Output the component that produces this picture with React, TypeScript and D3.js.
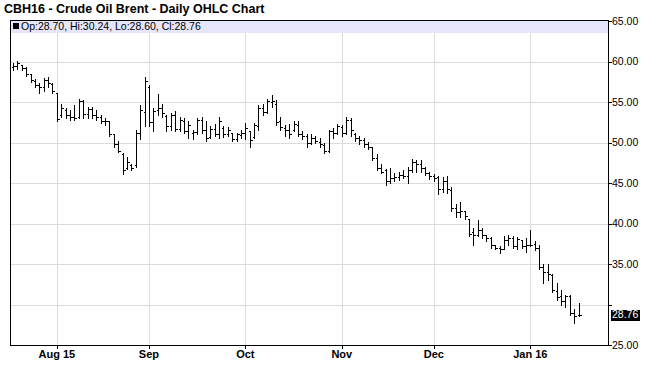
import React from "react";
import * as d3 from "d3";

// trading days, Jul 20 2015 .. Jan 19 2016
const dates = [
  "2015-07-20", "2015-07-21", "2015-07-22", "2015-07-23", "2015-07-24", "2015-07-27", "2015-07-28", "2015-07-29", "2015-07-30", "2015-07-31",
  "2015-08-03", "2015-08-04", "2015-08-05", "2015-08-06", "2015-08-07", "2015-08-10", "2015-08-11", "2015-08-12", "2015-08-13", "2015-08-14",
  "2015-08-17", "2015-08-18", "2015-08-19", "2015-08-20", "2015-08-21", "2015-08-24", "2015-08-25", "2015-08-26", "2015-08-27", "2015-08-28",
  "2015-08-31", "2015-09-01", "2015-09-02", "2015-09-03", "2015-09-04", "2015-09-07", "2015-09-08", "2015-09-09", "2015-09-10", "2015-09-11",
  "2015-09-14", "2015-09-15", "2015-09-16", "2015-09-17", "2015-09-18", "2015-09-21", "2015-09-22", "2015-09-23", "2015-09-24", "2015-09-25",
  "2015-09-28", "2015-09-29", "2015-09-30", "2015-10-01", "2015-10-02", "2015-10-05", "2015-10-06", "2015-10-07", "2015-10-08", "2015-10-09",
  "2015-10-12", "2015-10-13", "2015-10-14", "2015-10-15", "2015-10-16", "2015-10-19", "2015-10-20", "2015-10-21", "2015-10-22", "2015-10-23",
  "2015-10-26", "2015-10-27", "2015-10-28", "2015-10-29", "2015-10-30", "2015-11-02", "2015-11-03", "2015-11-04", "2015-11-05", "2015-11-06",
  "2015-11-09", "2015-11-10", "2015-11-11", "2015-11-12", "2015-11-13", "2015-11-16", "2015-11-17", "2015-11-18", "2015-11-19", "2015-11-20",
  "2015-11-23", "2015-11-24", "2015-11-25", "2015-11-26", "2015-11-27", "2015-11-30", "2015-12-01", "2015-12-02", "2015-12-03", "2015-12-04",
  "2015-12-07", "2015-12-08", "2015-12-09", "2015-12-10", "2015-12-11", "2015-12-14", "2015-12-15", "2015-12-16", "2015-12-17", "2015-12-18",
  "2015-12-21", "2015-12-22", "2015-12-23", "2015-12-24", "2015-12-28", "2015-12-29", "2015-12-30", "2015-12-31", "2016-01-04", "2016-01-05",
  "2016-01-06", "2016-01-07", "2016-01-08", "2016-01-11", "2016-01-12", "2016-01-13", "2016-01-14", "2016-01-15", "2016-01-18", "2016-01-19",
];

const opens = [
  59.3, 59.4, 59.6, 59.2, 58.4, 57.6, 57.1, 56.9, 57.7, 57.2,
  56.1, 53.4, 54.0, 53.4, 53.2, 53.1, 55.1, 53.5, 54.1, 53.4,
  53.2, 52.7, 52.6, 51.0, 49.8, 48.6, 46.8, 47.2, 47.2, 51.2,
  53.8, 56.9, 52.5, 54.0, 54.2, 53.3, 52.0, 53.4, 51.7, 52.6,
  51.4, 51.2, 51.3, 52.8, 51.6, 50.7, 51.7, 51.0, 51.8, 51.1,
  51.2, 50.4, 50.9, 51.2, 51.4, 50.7, 52.0, 54.2, 53.8, 55.0,
  54.8, 52.6, 51.8, 51.5, 51.5, 52.1, 51.0, 50.8, 50.0, 50.5,
  50.1, 49.7, 49.0, 51.4, 51.2, 51.9, 51.2, 52.8, 51.1, 50.5,
  50.3, 49.8, 49.4, 48.1, 46.9, 46.6, 45.3, 45.6, 45.8, 46.0,
  45.9, 46.6, 47.6, 47.3, 46.8, 46.2, 45.9, 45.7, 44.2, 45.3,
  44.1, 41.9, 41.4, 41.6, 40.6, 38.9, 38.6, 39.2, 38.6, 38.2,
  37.3, 37.0, 36.9, 38.0, 38.2, 37.2, 38.0, 37.2, 37.4, 37.5,
  37.0, 34.6, 34.0, 33.7, 31.7, 31.0, 30.4, 31.0, 28.9, 28.7,
];

const highs = [
  59.8, 60.1, 59.6, 59.3, 58.5, 57.9, 57.4, 58.0, 58.1, 57.3,
  56.1, 54.8, 54.3, 54.0, 54.6, 55.4, 55.2, 54.4, 54.4, 54.0,
  53.4, 53.0, 52.7, 51.0, 50.2, 48.7, 48.2, 47.4, 51.5, 54.6,
  58.1, 57.1, 54.2, 56.0, 54.8, 53.4, 53.7, 53.9, 53.2, 53.0,
  52.6, 51.6, 53.0, 53.2, 52.6, 52.0, 52.3, 53.1, 52.0, 51.9,
  51.2, 51.2, 51.6, 52.4, 51.4, 52.4, 54.6, 54.8, 55.4, 55.9,
  55.2, 53.2, 52.2, 52.3, 52.6, 52.7, 51.4, 51.0, 51.0, 50.8,
  50.5, 49.9, 51.6, 51.8, 52.3, 52.2, 53.1, 53.0, 51.2, 50.8,
  50.6, 50.1, 49.5, 48.6, 47.4, 46.7, 46.8, 46.2, 46.4, 46.6,
  47.0, 48.0, 47.8, 47.8, 47.0, 46.3, 46.1, 45.9, 45.8, 45.9,
  44.5, 42.4, 42.7, 41.6, 40.6, 39.4, 40.4, 39.4, 38.6, 38.3,
  37.4, 37.2, 38.4, 38.6, 38.5, 38.3, 38.0, 38.2, 39.2, 37.9,
  37.3, 35.0, 35.0, 33.8, 32.6, 31.8, 31.2, 31.2, 29.5, 30.24,
];

const lows = [
  59.0, 59.1, 58.9, 58.2, 57.5, 56.9, 56.1, 56.3, 56.9, 56.1,
  52.6, 53.2, 53.0, 52.8, 52.8, 53.0, 53.0, 53.0, 53.0, 52.8,
  52.4, 52.2, 50.8, 49.5, 48.8, 46.1, 46.7, 46.6, 47.0, 50.4,
  52.0, 52.0, 51.4, 53.4, 53.2, 51.4, 51.6, 51.4, 51.4, 51.2,
  50.6, 50.4, 51.0, 51.2, 50.2, 50.6, 50.8, 50.6, 50.7, 50.8,
  50.2, 50.2, 50.6, 50.4, 49.5, 50.6, 51.6, 53.4, 53.6, 54.4,
  52.2, 51.6, 50.8, 50.6, 51.4, 50.8, 50.4, 49.5, 49.8, 49.9,
  49.5, 48.7, 48.8, 50.6, 51.0, 50.8, 51.0, 50.8, 50.2, 49.8,
  49.5, 49.2, 47.9, 46.6, 46.2, 44.8, 45.0, 45.2, 45.4, 45.6,
  45.0, 46.4, 46.4, 46.4, 46.0, 45.5, 45.3, 43.7, 43.9, 43.8,
  41.6, 40.8, 40.8, 40.6, 38.4, 37.4, 38.4, 38.2, 37.8, 37.0,
  36.8, 36.4, 36.8, 37.4, 37.0, 36.8, 37.0, 36.5, 37.2, 36.7,
  34.4, 32.6, 33.0, 31.6, 30.6, 29.9, 29.7, 28.7, 27.7, 28.6,
];

const closes = [
  59.5, 59.8, 59.2, 58.4, 57.7, 57.1, 56.9, 57.7, 57.3, 56.3,
  52.9, 54.3, 53.4, 53.2, 53.0, 55.1, 53.5, 54.1, 53.4, 53.2,
  52.7, 52.6, 51.0, 49.8, 49.0, 46.6, 47.6, 46.9, 51.2, 54.0,
  57.6, 52.5, 53.9, 54.2, 53.6, 52.0, 53.4, 51.7, 52.8, 51.4,
  52.2, 51.3, 52.8, 51.6, 50.5, 51.7, 51.0, 52.6, 51.1, 51.6,
  50.4, 51.0, 51.2, 51.8, 50.3, 52.1, 54.3, 53.8, 55.1, 55.1,
  52.5, 51.9, 51.6, 51.1, 52.3, 51.0, 50.8, 49.9, 50.5, 50.2,
  49.8, 49.0, 51.4, 51.2, 52.0, 51.2, 52.8, 51.6, 50.5, 50.3,
  49.8, 49.5, 48.1, 46.9, 46.4, 45.2, 45.6, 45.8, 46.0, 45.9,
  46.6, 47.6, 47.3, 46.8, 46.2, 45.9, 45.6, 44.2, 45.3, 44.2,
  41.9, 41.4, 41.6, 40.9, 38.7, 38.6, 39.2, 38.6, 38.2, 37.3,
  37.0, 36.9, 38.0, 38.2, 37.2, 38.1, 37.2, 37.4, 37.4, 37.0,
  34.6, 34.0, 33.8, 31.8, 30.9, 30.4, 31.0, 29.0, 28.6, 28.76,
];

const priceTicks = [25, 30, 35, 40, 45, 50, 55, 60, 65];
const monthTicks = ["2015-08-03", "2015-09-01", "2015-10-01", "2015-11-02", "2015-12-01", "2016-01-04"];
const monthLabels = ["Aug 15", "Sep", "Oct", "Nov", "Dec", "Jan 16"];

const title = "CBH16 - Crude Oil Brent - Daily OHLC Chart";
const font = "'Liberation Sans', Arial, Helvetica, sans-serif";

export default function App() {
  const left = 10;
  const right = 608;
  const top = 20;
  const bottom = 345;

  const x = d3.scalePoint<string>().domain(dates).range([13, 578.5]);
  const y = d3.scaleLinear().domain([25, 65]).range([bottom, 21]);
  const px = (v: number) => Math.round(v) + 0.5;

  const last = dates.length - 1;
  const lastClose = closes[last];
  const yLast = y(lastClose);
  const fmt = d3.format(".2f");

  return (
    <svg width={650} height={386} style={{ position: "absolute", left: 0, top: 0, background: "#fff" }}>
      <text x={4} y={13} fontFamily={font} fontSize={12.5} fontWeight="bold" fill="#000">{title}</text>

      {/* grid */}
      <g stroke="#dcdcdc" strokeWidth={1} shapeRendering="crispEdges">
        {priceTicks.filter(t => t > 25 && t < 65).map(t => (
          <line key={t} x1={left} x2={right} y1={px(y(t))} y2={px(y(t))} />
        ))}
        {monthTicks.map(d => (
          <line key={d} x1={px(x(d)!)} x2={px(x(d)!)} y1={top} y2={bottom} />
        ))}
      </g>

      {/* legend band */}
      <rect x={left} y={top} width={right - left} height={13} fill="#e6e6fa" />
      <rect x={13} y={23} width={6} height={6} fill="#000" />
      <text x={21} y={30} fontFamily={font} fontSize={10.5} fill="#000">
        {`Op:${fmt(opens[last])}, Hi:${fmt(highs[last])}, Lo:${fmt(lows[last])}, Cl:${fmt(lastClose)}`}
      </text>

      {/* bars */}
      <g stroke="#000" strokeWidth={1} shapeRendering="crispEdges">
        {dates.map((d, i) => {
          const cx = px(x(d)!);
          return (
            <g key={d}>
              <line x1={cx} x2={cx} y1={Math.round(y(highs[i]))} y2={Math.round(y(lows[i])) + 1} />
              <line x1={cx - 2} x2={cx} y1={px(y(opens[i]))} y2={px(y(opens[i]))} />
              <line x1={cx} x2={cx + 2} y1={px(y(closes[i]))} y2={px(y(closes[i]))} />
            </g>
          );
        })}
      </g>

      {/* frame */}
      <rect x={left + 0.5} y={top + 0.5} width={right - left} height={bottom - top} fill="none" stroke="#000" shapeRendering="crispEdges" />

      {/* axis ticks */}
      <g shapeRendering="crispEdges" stroke="#000">
        {priceTicks.map(t => (
          <line key={t} x1={right} x2={right + 4} y1={px(y(t))} y2={px(y(t))} />
        ))}
        {monthTicks.map(d => (
          <line key={d} x1={px(x(d)!)} x2={px(x(d)!)} y1={bottom} y2={bottom + 4} />
        ))}
      </g>
      {priceTicks.filter(t => Math.abs(y(t) - yLast) > 11).map(t => (
        <text key={t} x={612} y={y(t)} dy="0.35em" fontFamily={font} fontSize={10.5} fill="#000">{fmt(t)}</text>
      ))}
      <rect x={611} y={Math.round(yLast) - 5} width={29} height={11} fill="#000" />
      <text x={612} y={yLast} dy="0.36em" fontFamily={font} fontSize={10.5} fill="#fff">{fmt(lastClose)}</text>

      {/* bottom axis labels */}
      {monthTicks.map((d, i) => (
        <text key={d} x={x(d)!} y={358} textAnchor="middle" fontFamily={font} fontSize={11} fontWeight="bold" fill="#000">{monthLabels[i]}</text>
      ))}
    </svg>
  );
}
